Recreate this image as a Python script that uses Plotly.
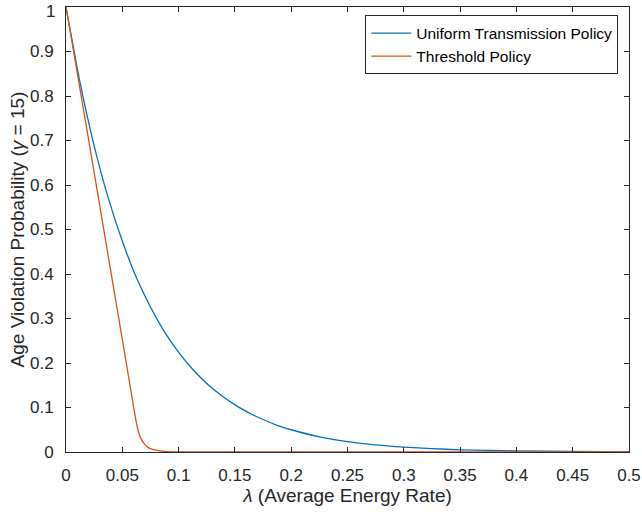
import plotly.graph_objects as go

# Uniform Transmission Policy
lam_uniform = [0, 0.0125, 0.025, 0.0375, 0.05, 0.0625, 0.075, 0.0875, 0.1, 0.1125, 0.125, 0.1375,
               0.15, 0.1625, 0.175, 0.1875, 0.2, 0.225, 0.25, 0.275, 0.3, 0.325, 0.35, 0.375,
               0.4, 0.45, 0.5]
p_uniform = [1.0, 0.83, 0.688, 0.571, 0.474, 0.392, 0.326, 0.27, 0.224, 0.186, 0.154, 0.128,
             0.106, 0.088, 0.073, 0.06, 0.05, 0.034, 0.0235, 0.016, 0.011, 0.0075, 0.005, 0.0035,
             0.0025, 0.0012, 0.0005]

# Threshold Policy
lam_threshold = [0, 0.01, 0.02, 0.03, 0.04, 0.05, 0.055, 0.06, 0.0625, 0.065, 0.0675, 0.07,
                 0.0725, 0.075, 0.08, 0.085, 0.09, 0.1, 0.12, 0.15, 0.2, 0.3, 0.4, 0.5]
p_threshold = [1.0, 0.852, 0.703, 0.553, 0.403, 0.253, 0.178, 0.102, 0.066, 0.04, 0.026, 0.017,
               0.011, 0.0075, 0.004, 0.002, 0.001, 0.0003, 0.0001, 0, 0, 0, 0, 0]

x_ticks = [0, 0.05, 0.1, 0.15, 0.2, 0.25, 0.3, 0.35, 0.4, 0.45, 0.5]
x_tick_labels = ["0", "0.05", "0.1", "0.15", "0.2", "0.25", "0.3", "0.35", "0.4", "0.45", "0.5"]
y_ticks = [0, 0.1, 0.2, 0.3, 0.4, 0.5, 0.6, 0.7, 0.8, 0.9, 1]
y_tick_labels = ["0", "0.1", "0.2", "0.3", "0.4", "0.5", "0.6", "0.7", "0.8", "0.9", "1"]

FONT = "Liberation Sans, Arial, Helvetica, sans-serif"
AX = "#262626"

fig = go.Figure()
fig.add_trace(go.Scatter(x=lam_uniform, y=p_uniform, mode="lines",
                         name="Uniform Transmission Policy",
                         line=dict(color="#0072BD", width=1.3, shape="spline", smoothing=0.6)))
fig.add_trace(go.Scatter(x=lam_threshold, y=p_threshold, mode="lines",
                         name="Threshold Policy",
                         line=dict(color="#D95319", width=1.3, shape="spline", smoothing=0.4)))

axis_common = dict(showgrid=False, zeroline=False, showline=True, linecolor=AX, linewidth=1,
                   mirror="ticks", ticks="inside", ticklen=5, tickcolor=AX,
                   automargin=False, ticklabeloverflow="allow",
                   tickfont=dict(family=FONT, size=17, color=AX))

# the top y label ("1") is drawn as an annotation nudged down so it is not clipped
y_tick_text_axis = y_tick_labels[:-1] + [""]

fig.update_xaxes(range=[0, 0.5], tickvals=x_ticks, ticktext=x_tick_labels,
                 ticklabelstandoff=8,
                 title=dict(text="<i>λ</i> (Average Energy Rate)", font=dict(family=FONT, size=19, color=AX),
                            standoff=0),
                 **axis_common)
fig.update_yaxes(range=[0, 1], tickvals=y_ticks, ticktext=y_tick_text_axis,
                 ticklabelstandoff=8,
                 title=dict(text="Age Violation Probability (<i>γ</i> = 15)", font=dict(family=FONT, size=19, color=AX),
                            standoff=0),
                 **axis_common)

fig.add_annotation(x=0, xref="paper", y=y_ticks[-1], yref="y", text=y_tick_labels[-1],
                   showarrow=False, xanchor="right", yanchor="middle", xshift=-9, yshift=-4,
                   font=dict(family=FONT, size=17, color=AX))

fig.update_layout(
    width=642, height=512,
    margin=dict(l=66, r=13, t=7, b=60),
    paper_bgcolor="white", plot_bgcolor="white",
    font=dict(family=FONT, color=AX),
    legend=dict(x=0.981, y=0.981, xanchor="right", yanchor="top",
                bgcolor="white", bordercolor=AX, borderwidth=1,
                font=dict(family=FONT, size=15.5, color="#000000"),
                tracegroupgap=0, itemwidth=40),
    showlegend=True,
)

fig.write_html("out.html", post_script="document.body.style.margin='0';",
               config={"displayModeBar": False})
